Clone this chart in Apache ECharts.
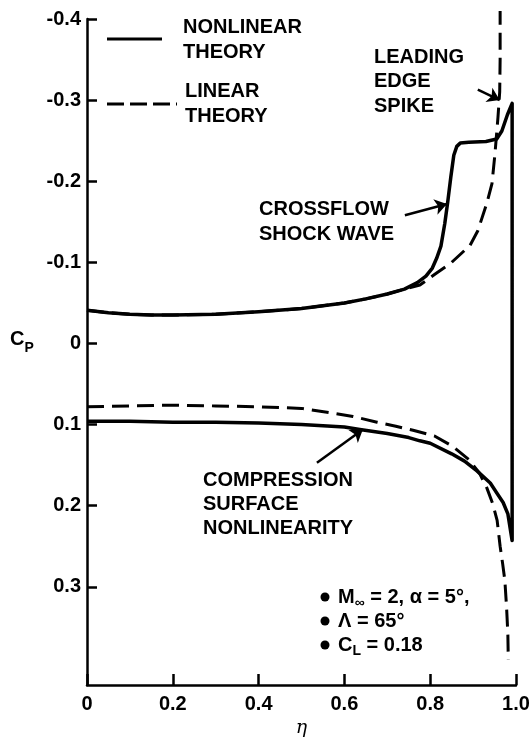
<!DOCTYPE html>
<html><head><meta charset="utf-8">
<script src="https://cdn.jsdelivr.net/npm/echarts@6/dist/echarts.min.js"></script>
<style>html,body{margin:0;padding:0;background:#fff}#c{width:530px;height:748px}</style>
</head><body><div id="c"></div>
<script>
// ---- tick labels ----
const xTickValues = [0, 0.2, 0.4, 0.6, 0.8, 1.0];
const xTickLabels = ['0', '0.2', '0.4', '0.6', '0.8', '1.0'];
const yTickValues = [-0.4, -0.3, -0.2, -0.1, 0, 0.1, 0.2, 0.3];
const yTickLabels = ['-0.4', '-0.3', '-0.2', '-0.1', '0', '0.1', '0.2', '0.3'];

// ---- nonlinear theory (solid): upper surface root -> leading edge ----
const upperNonlinearEta = [0, 0.05, 0.1, 0.15, 0.2, 0.3, 0.4, 0.5, 0.6, 0.65, 0.7, 0.74, 0.77, 0.79, 0.805, 0.815, 0.825, 0.834, 0.841, 0.848, 0.855, 0.862, 0.87, 0.89, 0.93, 0.955, 0.967, 0.98, 0.991];
const upperNonlinearCp  = [-0.041, -0.038, -0.036, -0.035, -0.035, -0.036, -0.039, -0.043, -0.050, -0.055, -0.061, -0.067, -0.075, -0.083, -0.093, -0.105, -0.120, -0.148, -0.175, -0.205, -0.232, -0.243, -0.247, -0.248, -0.249, -0.252, -0.262, -0.282, -0.296];
// lower surface leading edge -> root
const lowerNonlinearEta = [0.991, 0.981, 0.97, 0.956, 0.94, 0.909, 0.88, 0.85, 0.8, 0.776, 0.75, 0.7, 0.636, 0.6, 0.5, 0.4, 0.3, 0.2, 0.1, 0];
const lowerNonlinearCp  = [0.243, 0.210, 0.196, 0.185, 0.172, 0.157, 0.145, 0.136, 0.123, 0.120, 0.116, 0.111, 0.106, 0.103, 0.100, 0.098, 0.097, 0.097, 0.096, 0.096];

// ---- linear theory (dashed) ----
const upperLinearEta = [0, 0.05, 0.1, 0.15, 0.2, 0.3, 0.4, 0.5, 0.6, 0.65, 0.7, 0.74, 0.776, 0.81, 0.85, 0.893, 0.911, 0.932, 0.944, 0.951, 0.958, 0.962, 0.963, 0.963];
const upperLinearCp  = [-0.041, -0.038, -0.036, -0.035, -0.035, -0.036, -0.039, -0.043, -0.050, -0.055, -0.061, -0.067, -0.072, -0.085, -0.100, -0.121, -0.139, -0.173, -0.197, -0.234, -0.279, -0.31, -0.35, -0.41];
const lowerLinearEta = [0, 0.1, 0.2, 0.3, 0.4, 0.5, 0.573, 0.62, 0.676, 0.72, 0.76, 0.81, 0.853, 0.89, 0.915, 0.932, 0.946, 0.956, 0.963, 0.969, 0.974, 0.978, 0.981, 0.982];
const lowerLinearCp  = [0.078, 0.077, 0.076, 0.077, 0.078, 0.080, 0.086, 0.090, 0.097, 0.102, 0.107, 0.114, 0.127, 0.143, 0.160, 0.178, 0.198, 0.218, 0.250, 0.272, 0.292, 0.325, 0.358, 0.390];

// ---- annotation arrows (data coords: [from, to]) ----
const arrowCrossflow   = [[0.741, -0.158], [0.839, -0.172]];
const arrowSpike       = [[0.911, -0.313], [0.962, -0.300]];
const arrowCompression = [[0.536, 0.147], [0.643, 0.106]];

const zip = (xs, ys) => xs.map((x, i) => [x, ys[i]]);
const nonlinearData = zip(upperNonlinearEta, upperNonlinearCp).concat(zip(lowerNonlinearEta, lowerNonlinearCp));

const FONT = '"Liberation Sans", Arial, sans-serif';
const BLACK = '#000';
const textStyle = (size) => ({ fontFamily: FONT, fontWeight: 'bold', fontSize: size, fill: BLACK });

const chart = echarts.init(document.getElementById('c'), null, { renderer: 'canvas' });
const arrowLine = (pair) => [{ coord: pair[0] }, { coord: pair[1] }];
const subRich = {
  m: { fontFamily: FONT, fontWeight: 'bold', fontSize: 20, lineHeight: 26, verticalAlign: 'middle', fill: BLACK },
  s: { fontFamily: FONT, fontWeight: 'bold', fontSize: 14, lineHeight: 14, verticalAlign: 'bottom', fill: BLACK }
};

chart.setOption({
  backgroundColor: '#fff',
  animation: false,
  grid: { left: 87, right: 14, top: 19, bottom: 63, containLabel: false, outerBoundsMode: 'none' },
  xAxis: {
    type: 'value', min: 0, max: 1, interval: 0.2,
    axisLine: { onZero: false, lineStyle: { color: BLACK, width: 2.5 } },
    axisTick: { inside: true, length: 11, lineStyle: { color: BLACK, width: 2.5 } },
    axisLabel: {
      margin: 9, color: BLACK, fontFamily: FONT, fontWeight: 'bold', fontSize: 20,
      formatter: v => { const i = xTickValues.findIndex(t => Math.abs(t - v) < 1e-6); return i >= 0 ? xTickLabels[i] : ''; }
    },
    splitLine: { show: false },
    name: 'η', nameLocation: 'middle', nameGap: 31,
    nameTextStyle: { color: BLACK, fontFamily: '"DejaVu Serif", "Liberation Serif", serif', fontStyle: 'italic', fontSize: 19 }
  },
  yAxis: {
    type: 'value', inverse: true, min: -0.4, max: 0.421,
    axisLine: { show: true, onZero: false, lineStyle: { color: BLACK, width: 2.5 } },
    axisTick: { show: true, inside: true, length: 10, customValues: yTickValues, lineStyle: { color: BLACK, width: 2.5 } },
    axisLabel: {
      margin: 6, color: BLACK, fontFamily: FONT, fontWeight: 'bold', fontSize: 20, customValues: yTickValues,
      formatter: v => { const i = yTickValues.findIndex(t => Math.abs(t - v) < 1e-6); return i >= 0 ? yTickLabels[i] : ''; }
    },
    splitLine: { show: false }
  },
  series: [
    {
      name: 'Nonlinear theory', type: 'line', data: nonlinearData, showSymbol: false, clip: false,
      lineStyle: { color: BLACK, width: 3.5, join: 'round' }, silent: true,
      markLine: {
        silent: true, symbol: ['none', 'arrow'], symbolSize: 12, label: { show: false },
        lineStyle: { color: BLACK, width: 2.5, type: 'solid' },
        emphasis: { disabled: true },
        data: [arrowLine(arrowCrossflow), arrowLine(arrowSpike), arrowLine(arrowCompression)]
      }
    },
    {
      name: 'Linear theory upper', type: 'line', data: zip(upperLinearEta, upperLinearCp), showSymbol: false, clip: false,
      lineStyle: { color: BLACK, width: 3, type: [17, 8] }, silent: true
    },
    {
      name: 'Linear theory lower', type: 'line', data: zip(lowerLinearEta, lowerLinearCp), showSymbol: false, clip: false,
      lineStyle: { color: BLACK, width: 3, type: [17, 8] }, silent: true
    }
  ],
  graphic: [
    // legend
    { type: 'line', shape: { x1: 107, y1: 39, x2: 162, y2: 39 }, style: { stroke: BLACK, lineWidth: 3 } },
    { type: 'line', shape: { x1: 107, y1: 104, x2: 177, y2: 104 }, style: { stroke: BLACK, lineWidth: 3, lineDash: [17, 6] } },
    { type: 'text', x: 183, y: 14.5, style: Object.assign(textStyle(20), { text: 'NONLINEAR\nTHEORY', lineHeight: 25, verticalAlign: 'top' }) },
    { type: 'text', x: 185, y: 78.5, style: Object.assign(textStyle(20), { text: 'LINEAR\nTHEORY', lineHeight: 25, verticalAlign: 'top' }) },
    // annotations
    { type: 'text', x: 374, y: 45, style: Object.assign(textStyle(20), { text: 'LEADING\nEDGE\nSPIKE', lineHeight: 24.5, verticalAlign: 'top' }) },
    { type: 'text', x: 259, y: 196.5, style: Object.assign(textStyle(20), { text: 'CROSSFLOW\nSHOCK WAVE', lineHeight: 25, verticalAlign: 'top' }) },
    { type: 'text', x: 203, y: 468, style: Object.assign(textStyle(20), { text: 'COMPRESSION\nSURFACE\nNONLINEARITY', lineHeight: 24, verticalAlign: 'top' }) },
    // Cp label
    { type: 'text', x: 10, y: 323, style: {
        text: '{c|C}{p|P}', verticalAlign: 'top',
        rich: {
          c: { fontFamily: FONT, fontWeight: 'bold', fontSize: 20, lineHeight: 32, verticalAlign: 'middle', fill: BLACK },
          p: { fontFamily: FONT, fontWeight: 'bold', fontSize: 14, lineHeight: 12, verticalAlign: 'bottom', fill: BLACK }
        } } },
    // flight-condition notes
    { type: 'circle', shape: { cx: 325, cy: 597, r: 4.5 }, style: { fill: BLACK } },
    { type: 'circle', shape: { cx: 325, cy: 621, r: 4.5 }, style: { fill: BLACK } },
    { type: 'circle', shape: { cx: 325, cy: 645, r: 4.5 }, style: { fill: BLACK } },
    { type: 'text', x: 338, y: 584, style: { text: '{m|M}{s|∞}{m| = 2, α = 5°,}', verticalAlign: 'top', rich: subRich } },
    { type: 'text', x: 338, y: 608, style: Object.assign(textStyle(20), { text: 'Λ = 65°', lineHeight: 26, verticalAlign: 'top' }) },
    { type: 'text', x: 338, y: 632, style: { text: '{m|C}{s|L}{m| = 0.18}', verticalAlign: 'top', rich: subRich } }
  ]
});
</script>
</body></html>
